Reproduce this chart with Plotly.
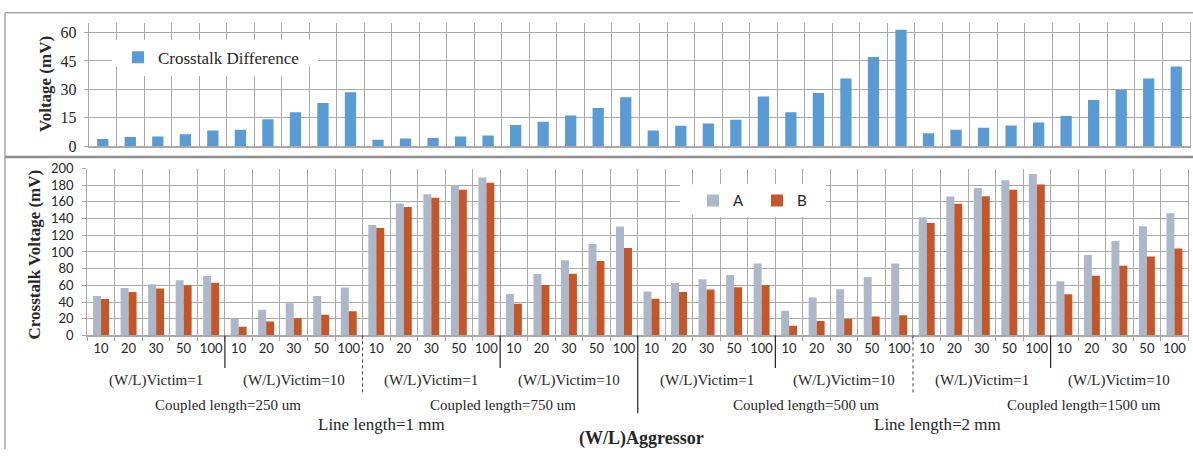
import plotly.graph_objects as go

# ---------------- data ----------------
ratio_labels = ["10", "20", "30", "50", "100"]
x_tick_labels = ratio_labels * 8
categories = list(range(40))

crosstalk_difference = [3.9, 4.9, 5.2, 6.4, 8.4, 8.8, 14.3, 18.0, 22.8, 28.5,
                        3.5, 4.2, 4.4, 5.2, 5.7, 11.3, 13.0, 16.2, 20.2, 25.8,
                        8.4, 10.8, 12.1, 14.0, 26.3, 17.9, 28.1, 35.7, 47.0, 61.4,
                        6.9, 8.8, 9.8, 11.0, 12.5, 16.0, 24.4, 29.8, 35.7, 42.1]

series_a = [47.3, 56.9, 61.2, 66.2, 71.2, 19.6, 30.8, 38.5, 47.3, 57.3,
            132.3, 158.0, 169.2, 180.0, 189.2, 49.6, 73.5, 90.0, 109.6, 130.4,
            52.7, 62.7, 67.3, 72.3, 86.2, 29.6, 45.4, 55.4, 70.0, 86.2,
            141.5, 166.5, 176.5, 185.8, 193.5, 65.0, 96.2, 113.0, 130.8, 146.5]

series_b = [43.5, 51.9, 56.2, 60.0, 63.1, 10.4, 16.5, 20.4, 24.6, 28.8,
            128.8, 153.8, 165.0, 174.6, 183.0, 38.0, 60.4, 73.8, 89.2, 104.6,
            43.8, 51.9, 55.0, 57.7, 60.4, 11.5, 17.3, 19.6, 22.7, 24.2,
            134.6, 157.7, 166.9, 174.6, 180.8, 49.2, 71.5, 83.5, 94.6, 104.2]

victim_labels = ["(W/L)Victim=1", "(W/L)Victim=10"] * 4
victim_pos = [2, 7, 12, 17, 22, 27, 32, 37]
coupled_labels = ["Coupled length=250 um", "Coupled length=750 um",
                  "Coupled length=500 um", "Coupled length=1500 um"]
coupled_pos = [4.6, 14.6, 25.6, 35.7]
line_labels = ["Line length=1 mm", "Line length=2 mm"]
line_pos = [10.2, 30.4]
short_seps = [4.5, 14.5, 24.5, 34.5]
dashed_seps = [9.5, 29.5]
long_seps = [19.5]

# ---------------- helpers ----------------
W, H = 1193, 458
def px(p):
    return p / W
def py(p):
    return 1 - p / H

GRID = "#A9A9A9"
SERIF = "Liberation Serif"
SANS = "Lato"
TXT = "#262626"

fig = go.Figure()
fig.add_trace(go.Bar(x=categories, y=crosstalk_difference, name="Crosstalk Difference",
                     marker=dict(color="#5B9BD5", line=dict(width=0)), width=0.41,
                     xaxis="x", yaxis="y", legend="legend", showlegend=True))
fig.add_trace(go.Bar(x=categories, y=series_a, name="A",
                     marker=dict(color="#ACB8CA", line=dict(width=0)), width=0.29, offset=-0.29,
                     xaxis="x2", yaxis="y2", legend="legend2", showlegend=True))
fig.add_trace(go.Bar(x=categories, y=series_b, name="B",
                     marker=dict(color="#C4572A", line=dict(width=0)), width=0.29, offset=0.0,
                     xaxis="x2", yaxis="y2", legend="legend2", showlegend=True))

fig.update_layout(
    width=W, height=H,
    margin=dict(l=0, r=0, t=0, b=0),
    paper_bgcolor="white", plot_bgcolor="white",
    font=dict(family=SERIF, size=17, color=TXT),
    barmode="overlay",
    showlegend=True,
    xaxis=dict(domain=[px(89), px(1190)], range=[-0.5, 39.5], anchor="y",
               showticklabels=False, ticks="", showgrid=False, zeroline=False,
               showline=True, linecolor=GRID, linewidth=1.5,
               minor=dict(tick0=0.5, dtick=1, showgrid=True, gridcolor=GRID, gridwidth=1.4)),
    yaxis=dict(domain=[py(143.7), py(15.5)], range=[0, 65], anchor="x",
               tickvals=[0, 15, 30, 45, 60], showgrid=True, gridcolor=GRID, gridwidth=1.4,
               zeroline=False, ticks="outside", ticklen=4, tickcolor=GRID,
               showline=True, mirror=True, linecolor=GRID, linewidth=1.4,
               ticklabelstandoff=4,
               tickfont=dict(family=SERIF, size=16, color=TXT)),
    xaxis2=dict(domain=[px(87.3), px(1188.2)], range=[-0.5, 39.5], anchor="y2",
                tickmode="array", tickvals=categories, ticktext=x_tick_labels,
                ticks="", showgrid=False, zeroline=False,
                showline=True, linecolor=GRID, linewidth=1.5,
                tickfont=dict(family=SANS, size=13, color=TXT),
                minor=dict(tick0=0.5, dtick=1, ticks="outside", ticklen=4, tickcolor=GRID,
                           showgrid=True, gridcolor=GRID, gridwidth=1.4)),
    yaxis2=dict(domain=[py(340), py(166.7)], range=[0, 200], anchor="x2",
                dtick=20, showgrid=True, gridcolor=GRID, gridwidth=1.4,
                zeroline=False, ticks="outside", ticklen=4, tickcolor=GRID,
                showline=True, mirror=True, linecolor=GRID, linewidth=1.4,
                ticklabelstandoff=6,
                tickfont=dict(family=SANS, size=13, color=TXT)),
    legend=dict(x=px(118), y=py(33), xanchor="left", yanchor="top",
                bgcolor="white", borderwidth=0, visible=True,
                font=dict(family=SERIF, size=17, color=TXT)),
    legend2=dict(x=px(693), y=py(183), xanchor="left", yanchor="top",
                 orientation="h", bgcolor="white", borderwidth=0, visible=True,
                 entrywidth=19, entrywidthmode="pixels",
                 font=dict(family=SANS, size=15, color=TXT)),
)

shapes = []
# white legend boxes (hide gridlines behind legends; no bars reach these areas)
shapes.append(dict(type="rect", xref="paper", yref="paper", x0=px(112), x1=px(318),
                   y0=py(61), y1=py(33), fillcolor="white", line=dict(width=0), layer="above"))
shapes.append(dict(type="rect", xref="paper", yref="paper", x0=px(680), x1=px(826),
                   y0=py(215), y1=py(183), fillcolor="white", line=dict(width=0), layer="above"))
# frame
shapes.append(dict(type="line", xref="paper", yref="paper", x0=px(5), x1=1, y0=py(5), y1=py(5),
                   line=dict(color="#A6A6A6", width=1.5)))
shapes.append(dict(type="line", xref="paper", yref="paper", x0=px(5), x1=px(5), y0=0, y1=py(5),
                   line=dict(color="#A6A6A6", width=1.5)))
shapes.append(dict(type="line", xref="paper", yref="paper", x0=px(5), x1=1, y0=py(154.7), y1=py(154.7),
                   line=dict(color="#8F8F8F", width=2.5)))
# group separators
for s in short_seps:
    shapes.append(dict(type="line", xref="x2", yref="paper", x0=s, x1=s, y0=py(340), y1=py(374),
                       line=dict(color="#202020", width=1.2)))
for s in dashed_seps:
    shapes.append(dict(type="line", xref="x2", yref="paper", x0=s, x1=s, y0=py(340), y1=py(401),
                       line=dict(color="#404040", width=1, dash="dot")))
for s in long_seps:
    shapes.append(dict(type="line", xref="x2", yref="paper", x0=s, x1=s, y0=py(340), y1=py(421),
                       line=dict(color="#202020", width=1.2)))
fig.update_layout(shapes=shapes)

C = dict(xanchor="center", yanchor="middle", showarrow=False)
ann = []
ann.append(dict(text="<b>Voltage (mV)</b>", x=px(45.5), y=py(79.5), xref="paper", yref="paper",
                textangle=-90, font=dict(family=SERIF, size=17, color=TXT), **C))
ann.append(dict(text="<b>Crosstalk Voltage (mV)</b>", x=px(34), y=py(256), xref="paper", yref="paper",
                textangle=-90, font=dict(family=SERIF, size=17, color=TXT), **C))
for lab, xp in zip(victim_labels, victim_pos):
    ann.append(dict(text=lab, x=xp, y=py(387), xref="x2", yref="paper",
                    font=dict(family=SERIF, size=15, color=TXT), **C))
for lab, xp in zip(coupled_labels, coupled_pos):
    ann.append(dict(text=lab, x=xp, y=py(412), xref="x2", yref="paper",
                    font=dict(family=SERIF, size=15, color=TXT), **C))
for lab, xp in zip(line_labels, line_pos):
    ann.append(dict(text=lab, x=xp, y=py(433), xref="x2", yref="paper",
                    font=dict(family=SERIF, size=17, color=TXT), **C))
ann.append(dict(text="<b>(W/L)Aggressor</b>", x=px(641), y=py(447), xref="paper", yref="paper",
                font=dict(family=SERIF, size=18, color=TXT), **C))
fig.update_layout(annotations=ann)

fig.write_html("out.html", config={"displayModeBar": False},
               post_script="document.body.style.margin='0';document.body.style.overflow='hidden';")
